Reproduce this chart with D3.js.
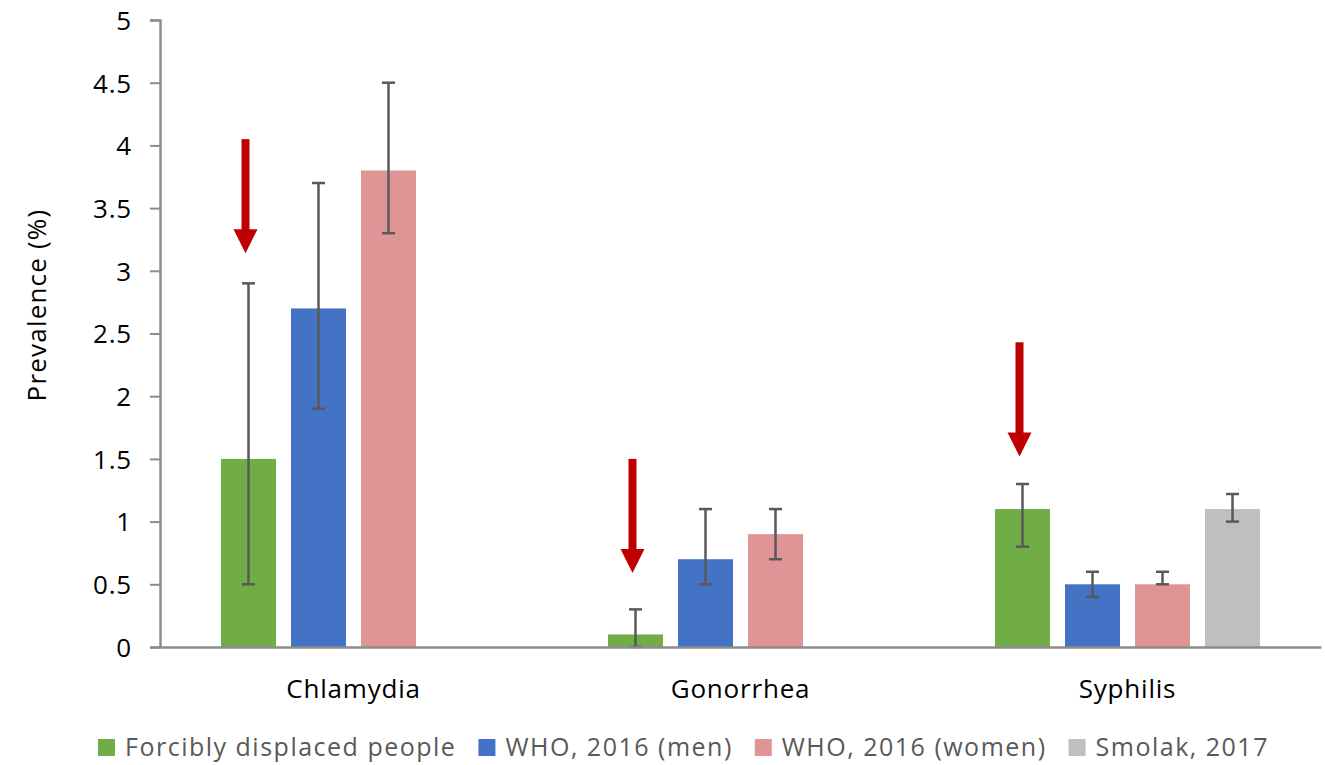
<!DOCTYPE html>
<html>
<head>
<meta charset="utf-8">
<script src="https://cdn.jsdelivr.net/npm/d3@7"></script>
<style>
  html, body { margin: 0; padding: 0; background: #fff; }
  svg { display: block; font-family: "Open Sans", sans-serif; }
</style>
</head>
<body>
<svg id="chart" width="1325" height="765"></svg>
<script>
// ---- data ----
const categories = ["Chlamydia", "Gonorrhea", "Syphilis"];
const seriesNames = ["Forcibly displaced people", "WHO, 2016 (men)", "WHO, 2016 (women)", "Smolak, 2017"];
const seriesColors = ["#70AD47", "#4472C4", "#DF9595", "#BFBFBF"];
// values per series, in category order (null = no bar)
const displacedValues = [1.5, 0.1, 1.1];
const whoMenValues    = [2.7, 0.7, 0.5];
const whoWomenValues  = [3.8, 0.9, 0.5];
const smolakValues    = [null, null, 1.1];
// error bar bounds
const displacedLow  = [0.5, 0.0, 0.8];
const displacedHigh = [2.9, 0.3, 1.3];
const whoMenLow     = [1.9, 0.5, 0.4];
const whoMenHigh    = [3.7, 1.1, 0.6];
const whoWomenLow   = [3.3, 0.7, 0.5];
const whoWomenHigh  = [4.5, 1.1, 0.6];
const smolakLow     = [null, null, 1.0];
const smolakHigh    = [null, null, 1.22];
// red annotation arrows above the displaced-people bars (value units)
const arrowFrom = [4.05, 1.5, 2.43];
const arrowTo   = [3.14, 0.59, 1.52];
const yTicks = [0, 0.5, 1, 1.5, 2, 2.5, 3, 3.5, 4, 4.5, 5];
const yTitle = "Prevalence (%)";

const values = [displacedValues, whoMenValues, whoWomenValues, smolakValues];
const lows = [displacedLow, whoMenLow, whoWomenLow, smolakLow];
const highs = [displacedHigh, whoMenHigh, whoWomenHigh, smolakHigh];

const bars = [];
seriesNames.forEach((s, si) => {
  categories.forEach((c, ci) => {
    if (values[si][ci] !== null) {
      bars.push({series: s, si, cat: c, ci, v: values[si][ci], lo: lows[si][ci], hi: highs[si][ci]});
    }
  });
});

// ---- layout ----
const svg = d3.select("#chart");
const plotLeft = 160, plotRight = 1321, plotTop = 20, plotBottom = 647;
const FONT = 26, LS = "0.8px";

const y = d3.scaleLinear().domain([0, 5]).range([plotBottom, plotTop]);
const x0 = d3.scaleBand().domain(categories).range([plotLeft, plotRight]).padding(0);
const step = 70, gap = 15;
const inner = d3.scaleBand().domain(seriesNames)
  .range([(x0.bandwidth() - step * 4) / 2, (x0.bandwidth() + step * 4) / 2])
  .paddingInner(gap / step).paddingOuter(gap / step / 2);

// bars
svg.append("g").selectAll("rect").data(bars).join("rect")
  .attr("x", d => x0(d.cat) + inner(d.series))
  .attr("width", inner.bandwidth())
  .attr("y", d => y(d.v))
  .attr("height", d => y(0) - y(d.v))
  .attr("fill", d => seriesColors[d.si]);

// error bars
const eb = svg.append("g").attr("stroke", "#595959").attr("stroke-width", 2.5);
bars.forEach(d => {
  const cx = x0(d.cat) + inner(d.series) + inner.bandwidth() / 2;
  eb.append("line").attr("x1", cx).attr("x2", cx).attr("y1", y(d.lo)).attr("y2", y(d.hi));
  eb.append("line").attr("x1", cx - 6.5).attr("x2", cx + 6.5).attr("y1", y(d.hi)).attr("y2", y(d.hi));
  eb.append("line").attr("x1", cx - 6.5).attr("x2", cx + 6.5).attr("y1", y(d.lo)).attr("y2", y(d.lo));
});

// y axis
const yAxis = svg.append("g").attr("transform", `translate(${plotLeft},0)`)
  .call(d3.axisLeft(y).tickValues(yTicks).tickSize(10).tickPadding(18).tickFormat(d3.format("")));
yAxis.select(".domain").attr("stroke", "#8c8c8c").attr("stroke-width", 2.5);
yAxis.selectAll(".tick line").attr("stroke", "#8c8c8c").attr("stroke-width", 2);
yAxis.selectAll(".tick text").attr("font-size", FONT).attr("fill", "#000")
  .attr("letter-spacing", LS)
  .attr("font-family", "'Open Sans', sans-serif").attr("dy", "0.36em");

// x axis baseline
const xAxis = svg.append("g").attr("transform", `translate(0,${plotBottom})`)
  .call(d3.axisBottom(x0).tickSize(0).tickPadding(51));
xAxis.select(".domain").attr("stroke", "#8c8c8c").attr("stroke-width", 2.5);
xAxis.selectAll(".tick text").attr("font-size", FONT).attr("fill", "#000")
  .attr("letter-spacing", LS)
  .attr("font-family", "'Open Sans', sans-serif").attr("dy", "0");

// y title
svg.append("text")
  .attr("transform", `translate(46, 305) rotate(-90)`)
  .attr("text-anchor", "middle").attr("font-size", FONT).attr("fill", "#000")
  .attr("letter-spacing", "1.2px")
  .text(yTitle);

// arrows
const ag = svg.append("g").attr("fill", "#C00000");
categories.forEach((c, ci) => {
  const cx = x0(c) + inner(seriesNames[0]) + inner.bandwidth() / 2 - 3;
  const yTail = y(arrowFrom[ci]), yTip = y(arrowTo[ci]);
  const headH = 24, headW = 24, shaftW = 8;
  ag.append("rect").attr("x", cx - shaftW / 2).attr("y", yTail)
    .attr("width", shaftW).attr("height", yTip - headH - yTail + 1);
  ag.append("path").attr("d",
    `M${cx - headW / 2},${yTip - headH} L${cx + headW / 2},${yTip - headH} L${cx},${yTip} Z`);
});

// legend
const legend = svg.append("g").attr("transform", "translate(98, 739)");
let lx = 0;
seriesNames.forEach((s, si) => {
  const g = legend.append("g").attr("transform", `translate(${lx},0)`);
  g.append("rect").attr("width", 17).attr("height", 17).attr("fill", seriesColors[si]);
  const t = g.append("text").attr("x", 27).attr("y", 8.5).attr("dy", "0.34em")
    .attr("font-size", 25).attr("letter-spacing", "1.5px").attr("fill", "#595959").text(s);
  lx += 27 + t.node().getComputedTextLength() + 22;
});
</script>
</body>
</html>
